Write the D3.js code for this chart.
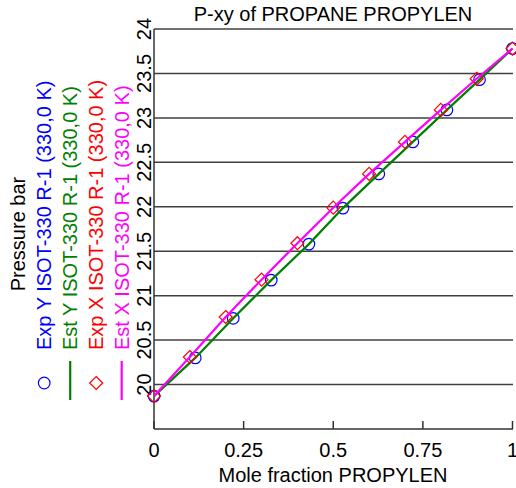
<!DOCTYPE html>
<html>
<head>
<meta charset="utf-8">
<script src="https://cdn.jsdelivr.net/npm/d3@7"></script>
<style>
body { margin: 0; background: #fff; }
text { font-family: "Liberation Sans", Arial, sans-serif; }
</style>
</head>
<body>
<div id="chart"></div>
<script>
var w = 516,
    h = 488;

// liquid (x) and vapour (y) mole fractions of PROPYLEN, pressure in bar
var expX = [0, 0.1, 0.2, 0.3, 0.4, 0.5, 0.6, 0.7, 0.8, 0.9, 1.0];
var expXP = [19.87, 20.31, 20.76, 21.18, 21.59, 21.99, 22.37, 22.73, 23.09, 23.44, 23.78];
var expY = [0, 0.115, 0.221, 0.327, 0.432, 0.527, 0.627, 0.722, 0.817, 0.908, 1.0];
var expYP = [19.87, 20.30, 20.745, 21.175, 21.58, 21.985, 22.37, 22.73, 23.09, 23.43, 23.78];
var estX = [0, 0.1, 0.2, 0.3, 0.4, 0.5, 0.6, 0.7, 0.8, 0.9, 1.0];
var estXP = [19.87, 20.31, 20.76, 21.18, 21.59, 21.99, 22.37, 22.73, 23.09, 23.44, 23.78];
var estY = [0, 0.115, 0.221, 0.327, 0.432, 0.527, 0.627, 0.722, 0.817, 0.908, 1.0];
var estYP = [19.87, 20.30, 20.745, 21.175, 21.58, 21.985, 22.37, 22.73, 23.09, 23.43, 23.78];

var xTicks = [0, 0.25, 0.5, 0.75, 1];
var xTickLabels = ["0", "0.25", "0.5", "0.75", "1"];
var yTicks = [20, 20.5, 21, 21.5, 22, 22.5, 23, 23.5, 24];

var legendNames = ["Exp Y ISOT-330 R-1 (330,0 K)", "Est Y ISOT-330 R-1 (330,0 K)",
                   "Exp X ISOT-330 R-1 (330,0 K)", "Est X ISOT-330 R-1 (330,0 K)"];
var legendColors = ["#0000ff", "#008000", "#ff0000", "#ff00ff"];
var legendKinds = ["circle", "line", "diamond", "line"];

var pLeft = 154, pRight = 512.5, pTop = 29, pBottom = 429;
var fs = "20px";

var x = d3.scaleLinear().domain([0, 1]).range([pLeft, pRight]);
var y = d3.scaleLinear().domain([19.5, 24]).range([pBottom, pTop]);

var svg = d3.select("#chart")
    .append("svg")
    .attr("width", w)
    .attr("height", h);

// horizontal grid
svg.selectAll(".grid")
    .data(yTicks)
    .enter()
    .append("line")
    .attr("x1", pLeft).attr("x2", pRight + 0.5)
    .attr("y1", function(d) {return y(d);})
    .attr("y2", function(d) {return y(d);})
    .attr("stroke", "#404040")
    .attr("stroke-width", 1.5);

// axes lines
svg.append("line").attr("x1", pLeft).attr("x2", pLeft).attr("y1", pTop).attr("y2", pBottom)
    .attr("stroke", "#333").attr("stroke-width", 1.5);
svg.append("line").attr("x1", pLeft).attr("x2", pRight + 0.5).attr("y1", pBottom).attr("y2", pBottom)
    .attr("stroke", "#333").attr("stroke-width", 1.5);

// x ticks (inside)
svg.selectAll(".xtick")
    .data(xTicks)
    .enter()
    .append("line")
    .attr("x1", function(d) {return x(d);})
    .attr("x2", function(d) {return x(d);})
    .attr("y1", pBottom).attr("y2", pBottom - 8)
    .attr("stroke", "#333").attr("stroke-width", 1.5);

svg.selectAll(".xlab")
    .data(xTicks)
    .enter()
    .append("text")
    .attr("x", function(d) {return x(d);})
    .attr("y", 457)
    .attr("text-anchor", "middle")
    .attr("font-size", fs)
    .text(function(d, i) {return xTickLabels[i];});

svg.selectAll(".ylab")
    .data(yTicks)
    .enter()
    .append("text")
    .attr("transform", function(d) {return "translate(151," + y(d) + ") rotate(-90)";})
    .attr("text-anchor", "middle")
    .attr("font-size", fs)
    .text(function(d) {return d;});

// title and axis labels
svg.append("text").attr("x", 333).attr("y", 20.5).attr("text-anchor", "middle")
    .attr("font-size", fs).text("P-xy of PROPANE PROPYLEN");
svg.append("text").attr("x", 333).attr("y", 482).attr("text-anchor", "middle")
    .attr("font-size", fs).text("Mole fraction PROPYLEN");
svg.append("text").attr("transform", "translate(25,234) rotate(-90)").attr("text-anchor", "middle")
    .attr("font-size", fs).text("Pressure bar");

// data
var line = d3.line()
    .x(function(d) {return x(d[0]);})
    .y(function(d) {return y(d[1]);});

svg.selectAll(".expy")
    .data(d3.zip(expY, expYP))
    .enter()
    .append("circle")
    .attr("cx", function(d) {return x(d[0]);})
    .attr("cy", function(d) {return y(d[1]);})
    .attr("r", 5.8)
    .attr("fill", "none")
    .attr("stroke", legendColors[0])
    .attr("stroke-width", 1.2);

svg.append("path")
    .attr("d", line(d3.zip(estY, estYP)))
    .attr("fill", "none")
    .attr("stroke", legendColors[1])
    .attr("stroke-width", 2.2);

svg.selectAll(".expx")
    .data(d3.zip(expX, expXP))
    .enter()
    .append("path")
    .attr("d", "M0,-6.5L6.5,0L0,6.5L-6.5,0Z")
    .attr("transform", function(d) {return "translate(" + x(d[0]) + "," + y(d[1]) + ")";})
    .attr("fill", "none")
    .attr("stroke", legendColors[2])
    .attr("stroke-width", 1.2);

svg.append("path")
    .attr("d", line(d3.zip(estX, estXP)))
    .attr("fill", "none")
    .attr("stroke", legendColors[3])
    .attr("stroke-width", 2.2);

// legend, rotated along the left side
var legX = [51, 77, 103, 128.5];
legendNames.forEach(function(name, i) {
    svg.append("text")
        .attr("transform", "translate(" + legX[i] + ",350) rotate(-90)")
        .attr("font-size", fs)
        .attr("fill", legendColors[i])
        .text(name);
    var mx = legX[i] - 6.8;
    if (legendKinds[i] == "circle") {
        svg.append("circle").attr("cx", mx).attr("cy", 383).attr("r", 5.8)
            .attr("fill", "none").attr("stroke", legendColors[i]).attr("stroke-width", 1.2);
    } else if (legendKinds[i] == "diamond") {
        svg.append("path").attr("d", "M0,-6.5L6.5,0L0,6.5L-6.5,0Z")
            .attr("transform", "translate(" + mx + ",383)")
            .attr("fill", "none").attr("stroke", legendColors[i]).attr("stroke-width", 1.2);
    } else {
        svg.append("line").attr("x1", mx).attr("x2", mx).attr("y1", 361).attr("y2", 400)
            .attr("stroke", legendColors[i]).attr("stroke-width", 2.2);
    }
});
</script>
</body>
</html>
